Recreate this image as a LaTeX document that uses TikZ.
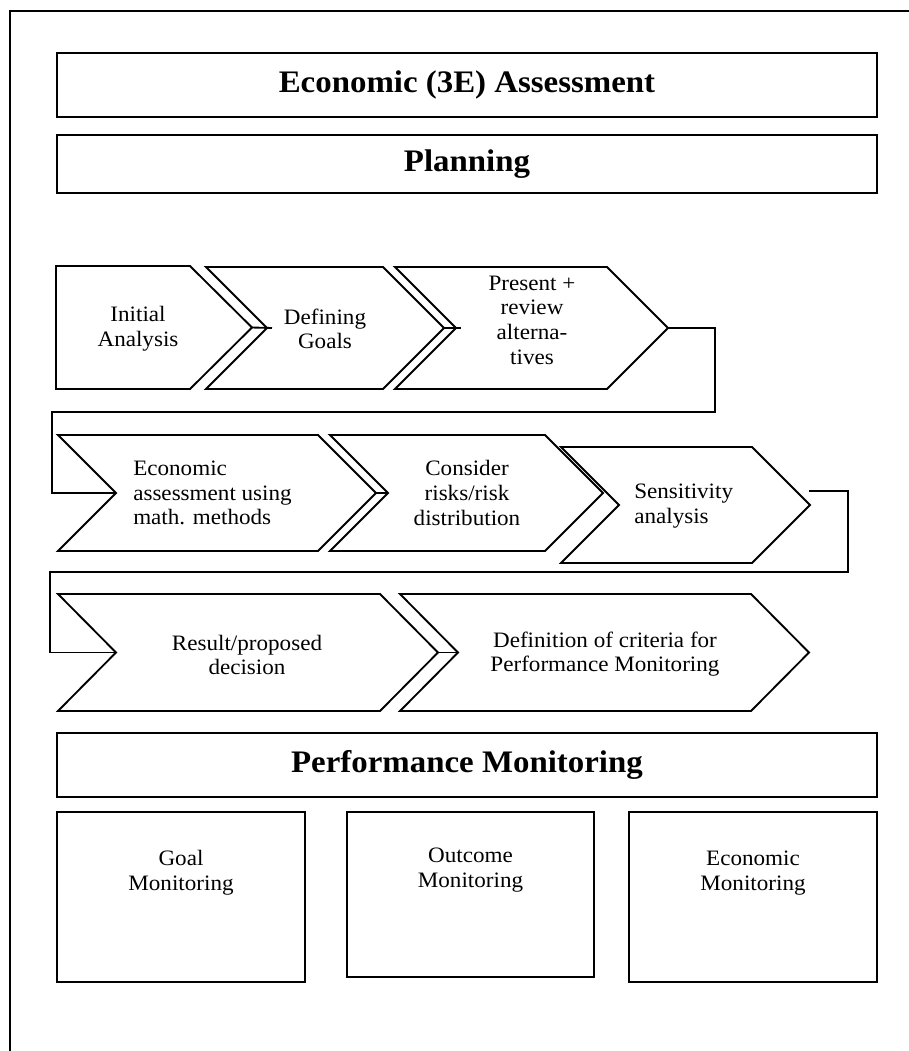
\documentclass[tikz,border=0pt]{standalone}
\usepackage{fontspec}
\setmainfont{Liberation Serif}[FakeStretch=1.05]
\usetikzlibrary{calc}
\newcommand\mychev[6]{%
  \pgfmathsetmacro\chym{(#5+#6)/2}%
  \pgfmathsetmacro\chxt{#3+#4}%
  \pgfmathsetmacro\chxn{#2+#4}%
  \draw[chev] (#2,#5) -- (#3,#5) -- (\chxt,\chym) -- (#3,#6) -- (#2,#6) -- (\chxn,\chym) -- cycle;
  \coordinate (#1-tip) at (\chxt,\chym);
  \coordinate (#1-notch) at (\chxn,\chym);
}
\newcommand\myflatchev[6]{%
  \pgfmathsetmacro\chym{(#5+#6)/2}%
  \pgfmathsetmacro\chxt{#3+#4}%
  \draw[chev] (#2,#5) -- (#3,#5) -- (\chxt,\chym) -- (#3,#6) -- (#2,#6) -- cycle;
  \coordinate (#1-tip) at (\chxt,\chym);
}
\begin{document}
\begin{tikzpicture}[x=0.75pt,y=-0.75pt,
  chev/.style={draw, fill=white, line width=1.4pt, line join=miter},
  hbox/.style={draw, line width=1.4pt, rectangle, inner sep=0pt},
  htext/.style={font=\fontsize{23.5}{28}\selectfont\bfseries},
  btext/.style={font=\fontsize{16.5}{18.5}\selectfont, align=center, inner sep=0pt},
  conn/.style={draw, line width=1.4pt}]
\useasboundingbox (0,0) rectangle (909,1051);
\draw[line width=1.4pt] (10,1051) -- (10,11) -- (909,11);

% headings
\node[hbox, htext, minimum width=615pt, minimum height=48pt] (title) at (467,85) {Economic (3E) Assessment};
\node[hbox, htext, minimum width=615pt, minimum height=43.5pt] (plan) at (467,164) {Planning};
\node[hbox, htext, minimum width=615pt, minimum height=48pt] (perf) at (467,765) {Performance Monitoring};

% row 1
\myflatchev{c1}{56}{190}{62}{266}{389}
\mychev{c2}{206}{383}{61}{267}{389}
\mychev{c3}{395}{607}{61}{267}{389}
% row 2
\mychev{c4}{58}{318}{58}{435}{551}
\mychev{c5}{330}{545}{58}{435}{551}
\mychev{c6}{561}{752}{58}{447}{563}
% row 3
\mychev{c7}{58}{380}{58}{594}{711}
\mychev{c8}{400}{751}{58}{594}{711}

% stubs between chevrons
\draw[conn] (c1-tip) -- ($(c2-notch)+(5,0)$);
\draw[conn] (c2-tip) -- ($(c3-notch)+(5,0)$);
\draw[conn] (c4-tip) -- (c5-notch);
\draw[conn] (c7-tip) -- (c8-notch);

% connectors between rows
\draw[conn] (c3-tip) -- (715,328) -- (715,412) -- (52,412) -- (52,493) -- (c4-notch);
\coordinate (c6out) at (809,491);
\draw[conn] (c6out) -- (848,491) -- (848,572) -- (50,572) -- (50,652.5) -- (c7-notch);

% chevron texts
\node[btext] (t1) at (138,329) {Initial\\Analysis};
\node[btext] (t2) at (325,329) {Defining\\Goals};
\node[btext] (t3) at (532,320) {Present +\\review\\alterna-\\tives};
\node[btext, align=left, anchor=west] (t4) at (133,493) {Economic\\assessment using\\math. methods};
\node[btext] (t5) at (467,493) {Consider\\risks/risk\\distribution};
\node[btext, align=left, anchor=west] (t6) at (634,506) {Sensitivity\\analysis};
\node[btext] (t7) at (247,655) {Result/proposed\\decision};
\node[btext] (t8) at (605,654) {Definition of criteria for\\Performance Monitoring};

% monitoring boxes
\node[hbox, minimum width=186pt, minimum height=127.5pt] (goal) at (181,897) {};
\node[hbox, minimum width=185.25pt, minimum height=123.75pt] (outc) at (470.5,894.5) {};
\node[hbox, minimum width=186pt, minimum height=127.5pt] (econ) at (753,897) {};
\node[btext] (goalt) at (181,873) {Goal\\Monitoring};
\node[btext] (outct) at (470.5,870) {Outcome\\Monitoring};
\node[btext] (econt) at (753,873) {Economic\\Monitoring};
\end{tikzpicture}
\end{document}
